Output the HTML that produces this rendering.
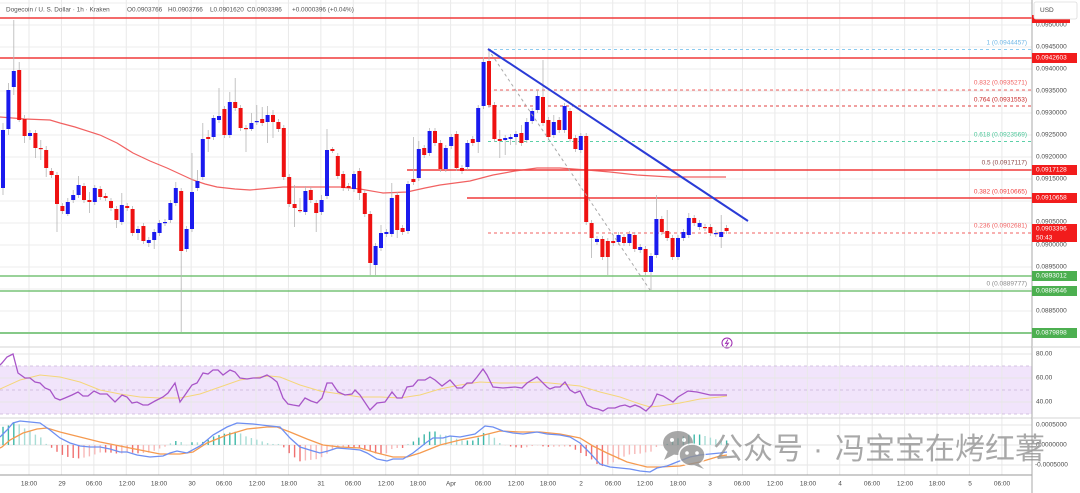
<!DOCTYPE html>
<html><head><meta charset="utf-8">
<style>
html,body{margin:0;padding:0;background:#fff;}
body{width:1080px;height:493px;overflow:hidden;}
svg{display:block;font-family:"Liberation Sans","Noto Sans CJK SC",sans-serif;}
.ax{font-size:6.5px;fill:#4a4a4a;}
.bx{font-size:6.5px;fill:#fff;}
.fib{font-size:6.5px;}
.hd{font-size:6.4px;fill:#555;}
</style></head><body>
<svg id="c" width="1080" height="493" viewBox="0 0 1080 493" xmlns="http://www.w3.org/2000/svg">
<rect width="1080" height="493" fill="#fff"/>
<rect x="0" y="366" width="1032" height="48" fill="#f1e4fb"/>
<g id="grid"></g>
<g stroke-width="0.8" stroke="#c8b4d8" stroke-dasharray="3,3">
<line x1="0" x2="1032" y1="366" y2="366"/>
<line x1="0" x2="1032" y1="390" y2="390"/>
<line x1="0" x2="1032" y1="414" y2="414"/>
</g>
<!-- levels -->
<line x1="0" x2="1032" y1="18" y2="18" stroke="#f03a3a" stroke-width="1.5"/>
<line x1="0" x2="1032" y1="58" y2="58" stroke="#f03a3a" stroke-width="1.5"/>
<line x1="407" x2="1032" y1="170" y2="170" stroke="#f03a3a" stroke-width="1.5"/>
<line x1="467" x2="1032" y1="198" y2="198" stroke="#f03a3a" stroke-width="1.5"/>
<line x1="0" x2="1032" y1="276" y2="276" stroke="#5cb85c" stroke-width="1.2"/>
<line x1="0" x2="1032" y1="291" y2="291" stroke="#5cb85c" stroke-width="1.2"/>
<line x1="0" x2="1032" y1="333" y2="333" stroke="#86c988" stroke-width="2"/>
<g stroke-width="0.9" stroke-dasharray="3,3">
<line x1="488" x2="1032" y1="49.5" y2="49.5" stroke="#8ccbf0"/>
<line x1="488" x2="1032" y1="90" y2="90" stroke="#f06060"/>
<line x1="488" x2="1032" y1="106" y2="106" stroke="#e04040"/>
<line x1="488" x2="1032" y1="141.5" y2="141.5" stroke="#5cd0a8"/>
<line x1="488" x2="1032" y1="233" y2="233" stroke="#f06060"/>
</g>
<polyline id="ma" fill="none" stroke="#f05050" stroke-width="1.2" stroke-opacity="0.9" points="0,117 25,119 50,120 60,123 75,127 100,135 117,143 133,153 150,161 167,168 180,174 193,180 205,184 217,187 235,189 250,190 283,187 340,187 360,189 383,193 407,192 425,188 440,185 455,183 470,181 493,175 515,171 537,168 560,168 587,170 610,172 637,175 670,177 726,177"/>
<g id="candles"></g>
<line x1="488" y1="49" x2="650" y2="290" stroke="#aaa" stroke-width="1" stroke-dasharray="3,3"/>
<line x1="488" y1="49" x2="748" y2="221" stroke="#2a3bd6" stroke-width="2"/>
<g class="fib" text-anchor="end" dominant-baseline="central">
<text x="1027" y="43" fill="#6fb7e6">1 (0.0944457)</text>
<text x="1027" y="83" fill="#f06060">0.832 (0.0935271)</text>
<text x="1027" y="100" fill="#c62828">0.764 (0.0931553)</text>
<text x="1027" y="135" fill="#4cc79a">0.618 (0.0923569)</text>
<text x="1027" y="163" fill="#8d4b4b">0.5 (0.0917117)</text>
<text x="1027" y="192" fill="#f04040">0.382 (0.0910665)</text>
<text x="1027" y="226" fill="#f06060">0.236 (0.0902681)</text>
<text x="1027" y="284" fill="#8a8a8a">0 (0.0889777)</text>
</g>
<circle cx="727" cy="343" r="5" fill="#fff" stroke="#9c27b0" stroke-width="1"/>
<polyline points="728,339.5 725.5,343.5 728.5,343 726,346.5" fill="none" stroke="#9c27b0" stroke-width="0.9"/>
<g id="macdh"></g>
<polyline id="rsima" fill="none" stroke="#f5d67a" stroke-width="1"/>
<polyline id="rsi" fill="none" stroke="#a855c8" stroke-width="1.3"/>
<polyline id="mo" fill="none" stroke="#f59a4f" stroke-width="1.3"/>
<polyline id="mb" fill="none" stroke="#6e8ff2" stroke-width="1.3"/>
<!-- separators / axes -->
<line x1="0" x2="1080" y1="347" y2="347" stroke="#d6d6d6" stroke-width="1"/>
<line x1="0" x2="1080" y1="418" y2="418" stroke="#d6d6d6" stroke-width="1"/>
<line x1="0" x2="1032" y1="475" y2="475" stroke="#9a9a9a" stroke-width="1"/>
<rect x="1032.5" y="0" width="48" height="493" fill="#fff"/>
<line x1="1032" x2="1032" y1="0" y2="493" stroke="#a8a8a8" stroke-width="1"/>
<line x1="1032" x2="1080" y1="347" y2="347" stroke="#d6d6d6" stroke-width="1"/>
<line x1="1032" x2="1080" y1="418" y2="418" stroke="#d6d6d6" stroke-width="1"/>
<g class="ax" dominant-baseline="central">
<text x="1036" y="25">0.0950000</text>
<text x="1036" y="47">0.0945000</text>
<text x="1036" y="69">0.0940000</text>
<text x="1036" y="91">0.0935000</text>
<text x="1036" y="113">0.0930000</text>
<text x="1036" y="135">0.0925000</text>
<text x="1036" y="157">0.0920000</text>
<text x="1036" y="179">0.0915000</text>
<text x="1036" y="222">0.0905000</text>
<text x="1036" y="245">0.0900000</text>
<text x="1036" y="267">0.0895000</text>
<text x="1036" y="311">0.0885000</text>
<text x="1036" y="354">80.00</text>
<text x="1036" y="378">60.00</text>
<text x="1036" y="402">40.00</text>
<text x="1036" y="425">0.0005000</text>
<text x="1036" y="445">0.0000000</text>
<text x="1035" y="465">-0.0005000</text>
</g>
<rect x="1032" y="15" width="38" height="8" fill="#f21c1c"/>
<rect x="1034" y="2" width="43" height="17" rx="2" fill="#fff" stroke="#dcdcdc" stroke-width="0.8"/>
<text x="1040" y="10.5" class="ax" fill="#333" dominant-baseline="central">USD</text>
<g>
<rect x="1032" y="53" width="45" height="10" fill="#f21c1c"/>
<rect x="1032" y="165" width="45" height="10" fill="#f21c1c"/>
<rect x="1032" y="193" width="45" height="10" fill="#f21c1c"/>
<rect x="1032" y="224" width="45" height="18" fill="#f21c1c"/>
<rect x="1032" y="271" width="45" height="10" fill="#4caf50"/>
<rect x="1032" y="286" width="45" height="10" fill="#4caf50"/>
<rect x="1032" y="328" width="45" height="10" fill="#4caf50"/>
</g>
<g class="bx" dominant-baseline="central">
<text x="1036" y="58">0.0942603</text>
<text x="1036" y="170">0.0917128</text>
<text x="1036" y="198">0.0910658</text>
<text x="1036" y="229">0.0903396</text>
<text x="1036" y="238">50:43</text>
<text x="1036" y="276">0.0893012</text>
<text x="1036" y="291">0.0889646</text>
<text x="1036" y="333">0.0879898</text>
</g>
<g class="ax" text-anchor="middle" dominant-baseline="central">
<text x="29" y="484">18:00</text>
<text x="62" y="484">29</text>
<text x="94" y="484">06:00</text>
<text x="127" y="484">12:00</text>
<text x="159" y="484">18:00</text>
<text x="192" y="484">30</text>
<text x="224" y="484">06:00</text>
<text x="257" y="484">12:00</text>
<text x="289" y="484">18:00</text>
<text x="321" y="484">31</text>
<text x="353" y="484">06:00</text>
<text x="386" y="484">12:00</text>
<text x="418" y="484">18:00</text>
<text x="451" y="484">Apr</text>
<text x="483" y="484">06:00</text>
<text x="516" y="484">12:00</text>
<text x="548" y="484">18:00</text>
<text x="581" y="484">2</text>
<text x="613" y="484">06:00</text>
<text x="645" y="484">12:00</text>
<text x="678" y="484">18:00</text>
<text x="710" y="484">3</text>
<text x="742" y="484">06:00</text>
<text x="775" y="484">12:00</text>
<text x="808" y="484">18:00</text>
<text x="840" y="484">4</text>
<text x="872" y="484">06:00</text>
<text x="905" y="484">12:00</text>
<text x="937" y="484">18:00</text>
<text x="970" y="484">5</text>
<text x="1002" y="484">06:00</text>
</g>
<g class="hd" dominant-baseline="central">
<text x="6" y="10">Dogecoin / U. S. Dollar · 1h · Kraken</text>
<text x="127" y="10">O0.0903766</text>
<text x="168" y="10">H0.0903766</text>
<text x="210" y="10">L0.0901620</text>
<text x="247" y="10">C0.0903396</text>
<text x="292" y="10">+0.0000396 (+0.04%)</text>
</g>
<!-- watermark -->
<g opacity="0.8">
<ellipse cx="678" cy="443" rx="15" ry="12" fill="#929292"/>
<polygon points="668,451 664,460 675,454" fill="#929292"/>
<circle cx="672" cy="440" r="2" fill="#fff"/>
<circle cx="684" cy="440" r="2" fill="#fff"/>
<ellipse cx="692" cy="455" rx="13" ry="11" fill="#929292" stroke="#fff" stroke-width="1.5"/>
<polygon points="698,463 704,469 694,465" fill="#929292"/>
<circle cx="687" cy="453" r="1.8" fill="#fff"/>
<circle cx="697" cy="453" r="1.8" fill="#fff"/>
</g>
<g fill="#8f8f8f" fill-opacity="0.78" font-size="30" style="font-family:'Liberation Sans','Noto Sans CJK SC',sans-serif;">
<text x="713" y="459">公众号</text>
<text x="813" y="459">·</text>
<text x="835" y="459">冯宝宝在烤红薯</text>
</g>
</svg>
<script>
(function(){
var NS='http://www.w3.org/2000/svg';
function el(p,t,a){var e=document.createElementNS(NS,t);for(var k in a)e.setAttribute(k,a[k]);p.appendChild(e);return e;}
var g=document.getElementById('grid');
for(var k=0;k<=30;k++){var x=29+k*32.43;el(g,'line',{x1:x,x2:x,y1:0,y2:475,stroke:'#e9e9e9','stroke-width':1});}
for(var j=0;j<=15;j++){var y=3+22*j;el(g,'line',{x1:0,x2:1032,y1:y,y2:y,stroke:'#ececec','stroke-width':1});}
[354,378,402,425,445,465].forEach(function(y){el(g,'line',{x1:0,x2:1032,y1:y,y2:y,stroke:'#e6e6e6','stroke-width':1});});
var C=[[130,188,1,123,195],[90,129,1,83,135],[71,87,1,20,95],[70,120,0,62,122],[119,136,0,115,143],[133,136,1,130,140],[133,148,0,130,158],[148,149,0,140,160],[150,168,0,146,177],[171,175,0,168,178],[175,204,0,172,232],[206,211,0,203,214],[202,214,1,198,216],[195,200,1,190,203],[185,195,1,176,198],[186,200,0,183,203],[200,202,0,192,213],[188,202,1,185,205],[189,197,0,186,200],[196,198,0,193,201],[201,208,0,198,211],[209,220,0,206,228],[205,222,1,193,225],[206,208,0,203,211],[209,233,0,206,236],[229,233,1,226,240],[226,241,0,223,244],[240,243,1,237,247],[232,240,1,229,249],[223,233,1,220,236],[222,223,1,219,226],[203,220,1,200,223],[188,203,1,182,206],[191,251,0,188,332],[229,249,1,226,252],[192,229,1,153,232],[181,188,1,170,191],[139,177,1,123,180],[137,139,0,130,152],[118,137,1,115,140],[116,120,1,88,123],[109,135,0,106,138],[102,135,1,92,138],[102,108,0,78,111],[108,128,0,105,131],[128,129,0,125,152],[123,129,1,113,131],[121,122,1,105,125],[119,123,0,107,126],[115,122,1,106,143],[115,122,0,110,138],[122,129,0,119,132],[128,177,0,125,180],[177,204,0,174,207],[204,208,0,185,227],[210,211,0,198,213],[191,212,1,186,215],[190,200,0,187,203],[203,213,0,200,232],[200,212,1,195,215],[150,196,1,129,199],[149,151,0,147,153],[156,176,0,153,179],[174,188,0,171,191],[186,188,0,183,191],[174,189,1,171,192],[171,193,0,168,200],[193,214,0,190,217],[214,263,0,211,275],[246,265,1,243,275],[233,248,1,225,251],[232,234,1,229,237],[198,234,1,183,237],[195,230,0,192,238],[228,232,0,225,235],[184,231,1,181,234],[179,182,0,137,185],[149,178,1,141,181],[148,155,0,145,158],[131,153,1,128,156],[131,143,0,128,146],[143,169,0,140,172],[148,169,1,145,172],[137,146,1,134,149],[134,168,0,131,171],[168,171,0,165,174],[143,167,1,140,170],[139,143,0,136,146],[108,142,1,105,153],[62,106,1,57,109],[61,105,0,49,108],[105,139,0,102,142],[139,141,0,130,158],[138,140,1,135,155],[137,139,1,134,145],[134,137,1,131,145],[133,143,0,125,146],[122,140,1,118,143],[111,121,1,108,124],[96,110,1,90,113],[97,123,0,60,126],[120,137,0,117,140],[122,135,1,115,138],[120,130,0,117,133],[106,130,1,103,133],[111,139,0,108,142],[138,149,0,135,152],[136,150,1,133,153],[136,222,0,133,225],[223,238,0,220,258],[239,242,1,236,245],[239,257,0,236,260],[241,257,0,238,275],[241,243,0,236,246],[235,242,1,232,245],[237,243,0,234,246],[234,243,1,231,246],[235,249,0,232,252],[247,250,1,244,253],[249,272,0,246,275],[256,272,1,253,290],[219,255,1,195,258],[219,232,0,216,235],[231,238,0,210,241],[238,257,0,235,260],[238,257,1,235,260],[232,238,1,229,241],[218,235,1,213,238],[218,223,0,215,226],[223,227,1,220,230],[227,228,0,224,231],[227,233,0,224,236],[233,234,1,230,237],[232,237,1,215,248],[228,231,0,225,234]];
var cg=document.getElementById('candles');
C.forEach(function(c,i){var x=3+i*5.4;
el(cg,'line',{x1:x,x2:x,y1:c[3],y2:c[4],stroke:'#b5b5b5','stroke-width':0.8});
el(cg,'rect',{x:x-2,y:c[0],width:4,height:Math.max(c[1]-c[0],1.2),fill:c[2]?'#1a1aee':'#ee1111'});});
var rsi=[[0,365],[2,363],[7,357],[13,354],[18,373],[25,378],[30,378],[35,382],[40,383],[45,388],[50,390],[55,398],[60,400],[65,398],[72,395],[78,392],[83,396],[88,396],[94,391],[100,394],[107,394],[115,402],[122,395],[127,397],[132,403],[137,402],[143,405],[148,405],[155,401],[163,397],[168,393],[175,383],[180,402],[185,395],[192,385],[197,383],[203,373],[208,374],[213,370],[218,370],[223,375],[230,370],[235,372],[240,378],[247,379],[253,378],[260,378],[267,375],[272,378],[277,382],[283,398],[288,404],[293,405],[299,406],[305,398],[311,401],[317,403],[322,398],[327,383],[332,383],[338,392],[345,395],[352,394],[355,390],[360,395],[370,410],[377,403],[385,402],[392,392],[397,398],[402,398],[407,387],[413,386],[418,380],[425,380],[430,377],[435,380],[442,386],[450,380],[457,388],[462,388],[467,383],[472,383],[477,377],[483,369],[487,375],[493,387],[503,388],[515,387],[522,388],[527,383],[537,377],[547,387],[550,389],[555,387],[560,387],[565,382],[570,390],[575,393],[580,391],[587,405],[593,408],[598,409],[603,411],[608,408],[615,408],[620,406],[625,405],[630,407],[635,405],[640,407],[646,411],[652,405],[657,394],[663,396],[673,402],[678,397],[688,391],[697,392],[710,395],[720,395],[727,395]];
var rsima=[[0,389],[20,380],[40,375],[60,377],[80,382],[100,390],[120,394],[140,397],[160,398],[180,398],[200,394],[220,387],[240,380],[260,377],[270,376],[280,377],[300,385],[320,391],[340,394],[360,397],[380,397],[400,398],[420,395],[440,389],[460,385],[480,382],[500,383],[520,383],[540,382],[560,384],[580,386],[600,392],[620,397],[640,404],[650,407],[660,406],[680,403],[700,399],[720,397],[727,396]];
var mb=[[0,437],[2,435],[7,430],[13,423],[20,421],[30,422],[40,423],[50,430],[60,438],[70,443],[80,446],[90,447],[100,447],[110,449],[120,452],[127,452],[137,455],[150,457],[163,456],[170,453],[177,451],[187,453],[200,446],[213,435],[227,427],[237,423],[253,424],[270,426],[280,427],[290,438],[300,447],[313,451],[320,453],[328,451],[337,448],[350,449],[360,450],[367,453],[377,459],[387,461],[393,459],[403,459],[413,453],[427,442],[433,438],[443,438],[450,436],[460,437],[475,434],[485,426],[493,427],[503,431],[513,433],[523,434],[537,432],[547,434],[560,435],[570,437],[580,443],[590,453],[600,464],[610,467],[620,468],[630,469],[640,471],[650,472],[657,468],[667,466],[677,462],[690,457],[700,455],[720,453],[727,452]];
var mo=[[0,448],[2,447],[10,440],[23,433],[37,429],[47,428],[60,432],[80,437],[100,442],[120,446],[140,450],[160,454],[180,454],[193,452],[207,443],[227,435],[247,429],[267,427],[277,427],[290,432],[307,439],[323,445],[340,447],[360,448],[377,453],[393,457],[407,457],[420,453],[440,445],[460,440],[480,436],[500,431],[520,432],[540,432],[560,434],[580,438],[593,446],[607,453],[627,462],[647,467],[660,467],[680,466],[700,462],[720,456],[727,455]];
function pts(a){return a.map(function(p){return p[0]+','+p[1];}).join(' ');}
document.getElementById('rsi').setAttribute('points',pts(rsi));
document.getElementById('rsima').setAttribute('points',pts(rsima));
document.getElementById('mb').setAttribute('points',pts(mb));
document.getElementById('mo').setAttribute('points',pts(mo));
function ip(a,x){for(var i=1;i<a.length;i++){if(x<=a[i][0]){var t=(x-a[i-1][0])/((a[i][0]-a[i-1][0])||1);return a[i-1][1]+t*(a[i][1]-a[i-1][1]);}}return a[a.length-1][1];}
var hg=document.getElementById('macdh');var prev=0;
for(var i=0;i<135;i++){var x=3+i*5.4;var h=(ip(mo,x)-ip(mb,x))*1.5;
var inc=Math.abs(h)>=Math.abs(prev);prev=h;
var col=h>=0?(inc?'#3fb8a8':'#a9ddd6'):(inc?'#f07070':'#f7b8b8');
var y=h>=0?445-h:445;el(hg,'rect',{x:x-0.7,y:y,width:1.4,height:Math.max(Math.abs(h),0.3),fill:col});}
})();
</script>
</body></html>
